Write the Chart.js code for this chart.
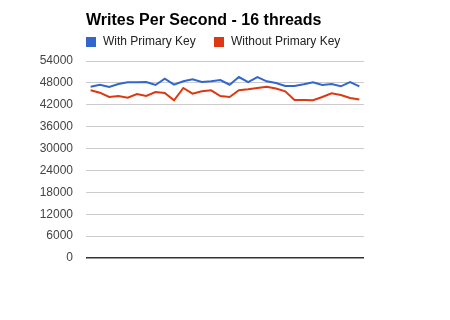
<!DOCTYPE html>
<html>
<head>
<meta charset="utf-8">
<script src="https://cdn.jsdelivr.net/npm/chart.js@4"></script>
<style>
  body { margin: 0; background: #fff; }
</style>
</head>
<body>
<canvas id="writesChart" width="450" height="320"></canvas>
<script>
var chartTitle = 'Writes Per Second - 16 threads';
var seriesNames = ['With Primary Key', 'Without Primary Key'];
var runs = [1, 2, 3, 4, 5, 6, 7, 8, 9, 10, 11, 12, 13, 14, 15, 16, 17, 18, 19, 20, 21, 22, 23, 24, 25, 26, 27, 28, 29, 30];
var withKey = [46950, 47500, 46870, 47690, 48160, 48160, 48240, 47420, 49150, 47500,
               48430, 48980, 48240, 48430, 48790, 47500, 49610, 48240, 49610, 48430,
               47970, 47150, 47150, 47610, 48160, 47420, 47690, 47060, 48240, 47060];
var withoutKey = [45970, 45310, 44130, 44400, 43940, 44950, 44400, 45500, 45230, 43230,
                  46600, 45030, 45690, 45970, 44400, 44130, 45970, 46240, 46600, 46950,
                  46450, 45690, 43310, 43310, 43230, 44130, 45140, 44680, 43860, 43450];
var yTicks = [0, 6000, 12000, 18000, 24000, 30000, 36000, 42000, 48000, 54000];

var colors = ['#3366cc', '#dc3912'];

// title + legend drawn aligned to the plot's left edge, like the original
var headerPlugin = {
  id: 'header',
  afterDraw: function(chart) {
    var c = chart.ctx;
    var left = chart.chartArea.left;
    c.save();
    c.fillStyle = '#000';
    c.font = 'bold 16px "Liberation Sans", Arial, sans-serif';
    c.textBaseline = 'middle';
    c.fillText(chartTitle, left, 21);
    c.font = '12px "Liberation Sans", Arial, sans-serif';
    var x = left;
    seriesNames.forEach(function(name, i) {
      c.fillStyle = colors[i];
      c.fillRect(x, 37, 10, 10);
      c.fillStyle = '#222';
      c.fillText(name, x + 17, 42);
      x += 128;
    });
    c.restore();
  }
};

var ctx = document.getElementById('writesChart').getContext('2d');
var writesChart = new Chart(ctx, {
  type: 'line',
  data: {
    labels: runs,
    datasets: [{
      label: seriesNames[0],
      data: withKey,
      borderColor: colors[0],
      backgroundColor: colors[0],
      borderWidth: 2,
      pointRadius: 0,
      tension: 0
    }, {
      label: seriesNames[1],
      data: withoutKey,
      borderColor: colors[1],
      backgroundColor: colors[1],
      borderWidth: 2,
      pointRadius: 0,
      tension: 0
    }]
  },
  options: {
    responsive: false,
    animation: false,
    layout: { padding: { top: 61, right: 86, bottom: 62, left: 0 } },
    plugins: {
      legend: { display: false },
      title: { display: false },
      tooltip: { enabled: false }
    },
    scales: {
      x: {
        display: false,
        offset: true
      },
      y: {
        min: 0,
        max: 54000,
        afterFit: function(scale) { scale.width = 86; },
        afterBuildTicks: function(scale) {
          scale.ticks = yTicks.map(function(v) { return { value: v }; });
        },
        border: { display: false },
        grid: {
          drawTicks: false,
          color: function(c) { return c.tick && c.tick.value === 0 ? '#333' : '#ccc'; },
          lineWidth: function(c) { return c.tick && c.tick.value === 0 ? 1.5 : 1; }
        },
        ticks: {
          padding: 13,
          color: '#444',
          font: { family: '"Liberation Sans", Arial, sans-serif', size: 12 },
          callback: function(v) { return String(v); }
        }
      }
    }
  },
  plugins: [headerPlugin]
});
</script>
</body>
</html>
